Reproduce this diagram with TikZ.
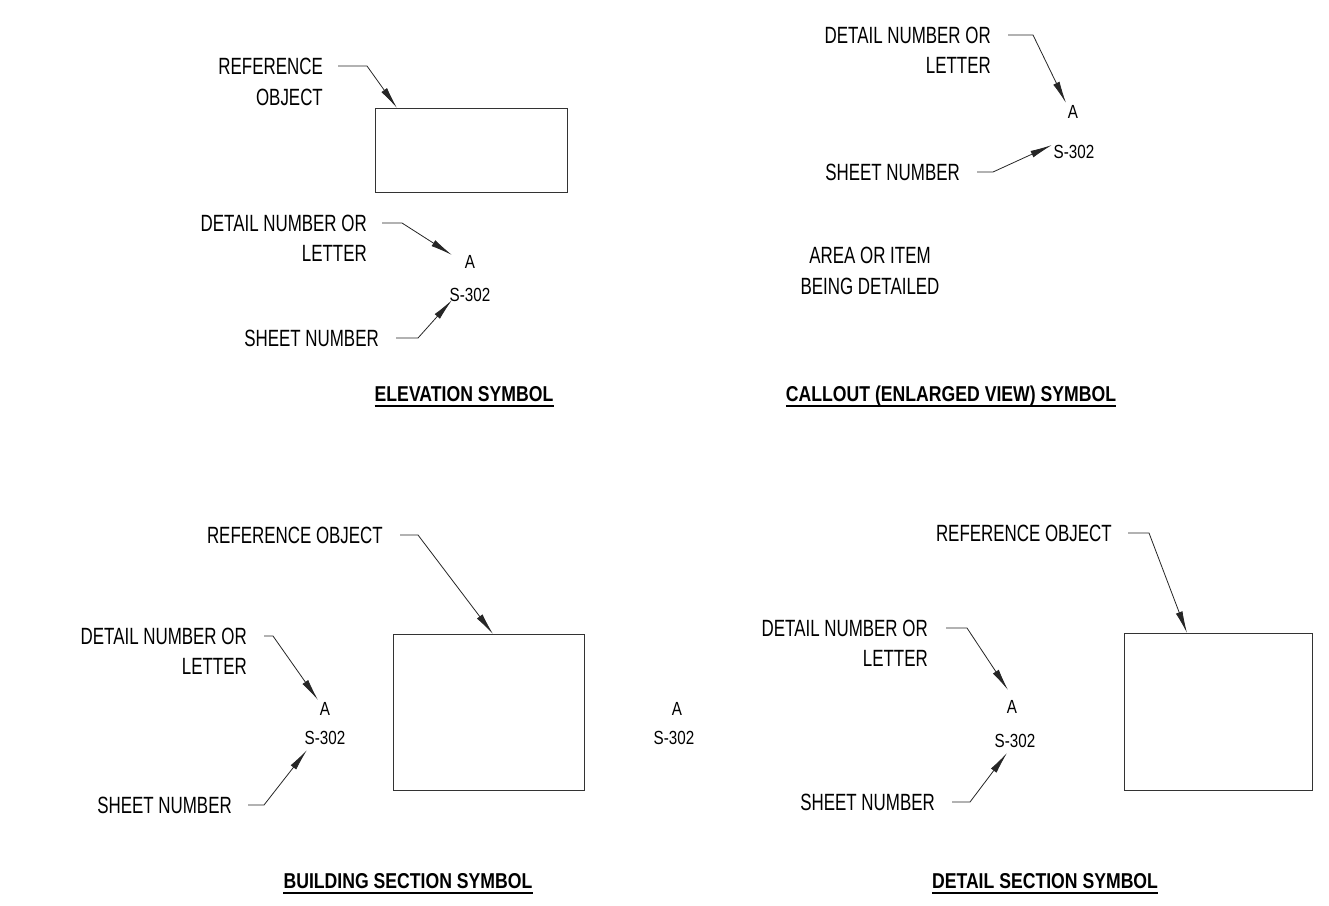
\documentclass[tikz,border=0pt]{standalone}
\usepackage{fontspec}
\setmainfont{Liberation Sans}[FakeStretch=0.72]
\newfontfamily\numfont{Liberation Sans}[FakeStretch=0.8]
\newfontfamily\titlefont{Liberation Sans}[FakeStretch=0.82]
\usetikzlibrary{positioning,arrows.meta}

\tikzset{
  lbl/.style={inner sep=0pt, font=\fontsize{23.5}{28}\selectfont},
  num/.style={inner sep=0pt, font=\numfont\fontsize{19}{23}\selectfont},
  symtitle/.style={inner sep=0pt, anchor=base, font=\titlefont\bfseries\fontsize{21.5}{25}\selectfont},
  uline/.style={line width=2.6pt},
  leader/.style={draw=black!85, line width=0.8pt, -{Latex[length=22pt,width=7pt]}},
  objbox/.style={draw=black!80, line width=1pt, anchor=north west},
}

\begin{document}
\begin{tikzpicture}[x=1pt, y=-1pt, node distance=14pt]
  \useasboundingbox (0,0) rectangle (1329,905);

  % elevation symbol
  \node[objbox, minimum width=192pt, minimum height=84pt] (elBox) at (375,108) {};
  \node[lbl, anchor=east] (elRef1) at (323,66) {REFERENCE};
  \node[lbl, below left=14pt and 0pt of elRef1.south east] (elRef2) {OBJECT};
  \draw[leader] ([xshift=15pt]elRef1.east) -- ++(29,0) -- ([xshift=22pt]elBox.north west);
  \node[lbl, anchor=east] (elDet1) at (367,223) {DETAIL NUMBER OR};
  \node[lbl, below left=14pt and 0pt of elDet1.south east] (elDet2) {LETTER};
  \node[num] (elA) at (470,262) {A};
  \node[num] (elS) at (470,295) {S-302};
  \draw[leader] ([xshift=15pt]elDet1.east) -- ++(20,0) -- ([shift={(-18,-7)}]elA.center);
  \node[lbl, anchor=east] (elSheet) at (379,338) {SHEET NUMBER};
  \draw[leader] ([xshift=17pt]elSheet.east) -- ++(22,0) -- ([shift={(-18,5)}]elS.center);
  \node[symtitle] (elTitle) at (464,401) {ELEVATION SYMBOL};
  \draw[uline] ([yshift=-5pt]elTitle.base west) -- ([yshift=-5pt]elTitle.base east);

  % callout symbol
  \node[lbl, anchor=east] (coDet1) at (991,35) {DETAIL NUMBER OR};
  \node[lbl, below left=14pt and 0pt of coDet1.south east] (coDet2) {LETTER};
  \node[num] (coA) at (1073,112) {A};
  \node[num] (coS) at (1074,152) {S-302};
  \draw[leader] ([xshift=17pt]coDet1.east) -- ++(25,0) -- ([shift={(-7,-9)}]coA.center);
  \node[lbl, anchor=east] (coSheet) at (960,172) {SHEET NUMBER};
  \draw[leader] ([xshift=17pt]coSheet.east) -- ++(16,0) -- ([shift={(-22,-7)}]coS.center);
  \node[lbl] (coArea1) at (870,255) {AREA OR ITEM};
  \node[lbl, below=of coArea1] (coArea2) {BEING DETAILED};
  \node[symtitle] (coTitle) at (951,401) {CALLOUT (ENLARGED VIEW) SYMBOL};
  \draw[uline] ([yshift=-5pt]coTitle.base west) -- ([yshift=-5pt]coTitle.base east);

  % building section symbol
  \node[objbox, minimum width=191pt, minimum height=156pt] (bsBox) at (393,634) {};
  \node[lbl, anchor=east] (bsRef) at (383,535) {REFERENCE OBJECT};
  \draw[leader] ([xshift=17pt]bsRef.east) -- ++(18,0) -- ([xshift=100pt]bsBox.north west);
  \node[lbl, anchor=east] (bsDet1) at (247,636) {DETAIL NUMBER OR};
  \node[lbl, below left=14pt and 0pt of bsDet1.south east] (bsDet2) {LETTER};
  \node[num] (bsA) at (325,709) {A};
  \node[num] (bsS) at (325,738) {S-302};
  \draw[leader] ([xshift=17pt]bsDet1.east) -- ++(9,0) -- ([shift={(-7,-9)}]bsA.center);
  \node[lbl, anchor=east] (bsSheet) at (232,805) {SHEET NUMBER};
  \draw[leader] ([xshift=16pt]bsSheet.east) -- ++(16,0) -- ([shift={(-18,12)}]bsS.center);
  \node[symtitle] (bsTitle) at (408,888) {BUILDING SECTION SYMBOL};
  \draw[uline] ([yshift=-5pt]bsTitle.base west) -- ([yshift=-5pt]bsTitle.base east);

  \node[num] (midA) at (677,709) {A};
  \node[num] (midS) at (674,738) {S-302};

  % detail section symbol
  \node[objbox, minimum width=188pt, minimum height=157pt] (dsBox) at (1124,633) {};
  \node[lbl, anchor=east] (dsRef) at (1112,533) {REFERENCE OBJECT};
  \draw[leader] ([xshift=16pt]dsRef.east) -- ++(21,0) -- ([xshift=63pt]dsBox.north west);
  \node[lbl, anchor=east] (dsDet1) at (928,628) {DETAIL NUMBER OR};
  \node[lbl, below left=14pt and 0pt of dsDet1.south east] (dsDet2) {LETTER};
  \node[num] (dsA) at (1012,707) {A};
  \node[num] (dsS) at (1015,741) {S-302};
  \draw[leader] ([xshift=18pt]dsDet1.east) -- ++(21,0) -- ([shift={(-4,-17)}]dsA.center);
  \node[lbl, anchor=east] (dsSheet) at (935,802) {SHEET NUMBER};
  \draw[leader] ([xshift=17pt]dsSheet.east) -- ++(18,0) -- ([shift={(-8,12)}]dsS.center);
  \node[symtitle] (dsTitle) at (1045,888) {DETAIL SECTION SYMBOL};
  \draw[uline] ([yshift=-5pt]dsTitle.base west) -- ([yshift=-5pt]dsTitle.base east);
\end{tikzpicture}
\end{document}
